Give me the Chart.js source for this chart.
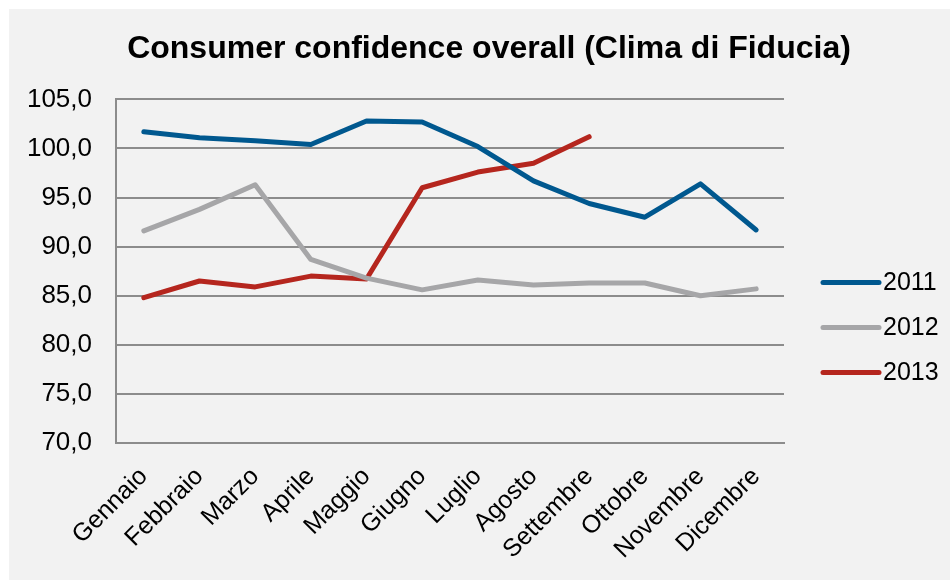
<!DOCTYPE html>
<html>
<head>
<meta charset="utf-8">
<script src="https://cdn.jsdelivr.net/npm/chart.js@4/dist/chart.umd.min.js"></script>
<style>
  html, body { margin: 0; padding: 0; background: #ffffff; }
  #wrap { width: 950px; height: 580px; }
</style>
</head>
<body>
<div id="wrap"><canvas id="chart" width="950" height="580"></canvas></div>
<script>
const months = ["Gennaio", "Febbraio", "Marzo", "Aprile", "Maggio", "Giugno",
                "Luglio", "Agosto", "Settembre", "Ottobre", "Novembre", "Dicembre"];
const values2011 = [101.7, 101.1, 100.8, 100.4, 102.8, 102.7, 100.2, 96.7, 94.4, 93.0, 96.4, 91.7];
const values2012 = [91.6, 93.8, 96.3, 88.7, 86.8, 85.6, 86.6, 86.1, 86.3, 86.3, 85.0, 85.7];
const values2013 = [84.8, 86.5, 85.9, 87.0, 86.7, 96.0, 97.6, 98.5, 101.2];
const yTicks = [70, 75, 80, 85, 90, 95, 100, 105];

const FONT = "'Liberation Sans', Arial, sans-serif";
const GRID = "#8c8c8c";

// light gray panel behind everything
const panelBg = {
  id: "panelBg",
  beforeDraw(chart) {
    const ctx = chart.ctx;
    ctx.save();
    ctx.fillStyle = "#f2f2f2";
    ctx.fillRect(9, 9, chart.width - 9, chart.height - 9);
    ctx.restore();
  }
};

// Excel-like legend: thick line sample + label, to the right of the plot
const sideLegend = {
  id: "sideLegend",
  afterDraw(chart) {
    const ctx = chart.ctx;
    const area = chart.chartArea;
    const x0 = area.right + 39;
    const midY = area.top + 228;
    const step = 45;
    const sets = chart.data.datasets;
    ctx.save();
    ctx.font = "25px " + FONT;
    ctx.textBaseline = "middle";
    ctx.textAlign = "left";
    sets.forEach((ds, i) => {
      const y = midY + (i - (sets.length - 1) / 2) * step;
      ctx.strokeStyle = ds.borderColor;
      ctx.lineWidth = 5;
      ctx.lineCap = "round";
      ctx.beginPath();
      ctx.moveTo(x0, y);
      ctx.lineTo(x0 + 56, y);
      ctx.stroke();
      ctx.fillStyle = "#000";
      ctx.fillText(ds.label, x0 + 60, y + 1);
    });
    ctx.restore();
  }
};

function series(label, data, color) {
  return {
    label: label,
    data: data,
    borderColor: color,
    backgroundColor: color,
    borderWidth: 5,
    borderCapStyle: "round",
    borderJoinStyle: "round",
    pointRadius: 0,
    tension: 0,
    fill: false
  };
}

new Chart(document.getElementById("chart"), {
  type: "line",
  data: {
    labels: months,
    datasets: [
      series("2011", values2011, "#00588f"),
      series("2012", values2012, "#a6a6a8"),
      series("2013", values2013, "#b5261e")
    ]
  },
  options: {
    responsive: false,
    animation: false,
    layout: { padding: { left: 28, top: 9, right: 0, bottom: 0 } },
    plugins: {
      legend: { display: false },
      tooltip: { enabled: false },
      title: {
        display: true,
        text: "Consumer confidence overall (Clima di Fiducia)",
        color: "#000",
        font: { family: FONT, size: 32, weight: "bold" },
        padding: { top: 21, bottom: 31 }
      }
    },
    scales: {
      x: {
        offset: true,
        grid: { display: false, drawTicks: false },
        border: { display: true, color: GRID, width: 2 },
        ticks: {
          color: "#000",
          font: { family: FONT, size: 25 },
          autoSkip: false,
          maxRotation: 45,
          minRotation: 45,
          padding: 19
        },
        afterFit(scale) { scale.height = 137; }
      },
      y: {
        min: 70,
        max: 105,
        afterBuildTicks(scale) { scale.ticks = yTicks.map(v => ({ value: v })); },
        grid: { color: GRID, lineWidth: 2, drawTicks: false },
        border: { display: true, color: GRID, width: 2 },
        ticks: {
          color: "#000",
          font: { family: FONT, size: 26 },
          padding: 24,
          callback: v => v.toFixed(1).replace(".", ",")
        },
        afterFit(scale) { scale.width = 88; }
      },
      spare: {
        position: "right",
        display: true,
        grid: { display: false, drawTicks: false },
        border: { display: false },
        ticks: { display: false },
        afterFit(scale) { scale.width = 166; }
      }
    }
  },
  plugins: [panelBg, sideLegend]
});
</script>
</body>
</html>
